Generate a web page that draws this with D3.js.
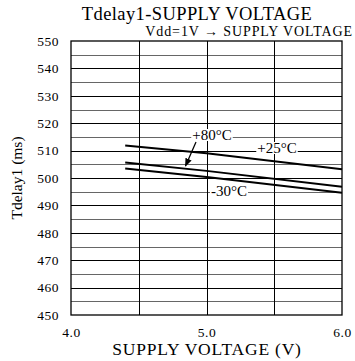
<!DOCTYPE html>
<html><head><meta charset="utf-8">
<script src="https://cdn.jsdelivr.net/npm/d3@7"></script>
<style>body{margin:0;background:#fff}svg{display:block}text{font-family:"Liberation Serif","DejaVu Serif",serif;fill:#000}</style>
</head><body>
<script>
const voltages = [4.4, 5.0, 6.0];
const t25 = [511.9, 509.0, 503.2];
const t80 = [505.7, 502.6, 496.8];
const tm30 = [503.5, 500.4, 494.6];
const seriesNames = ["+25°C", "+80°C", "-30°C"];
const xTicks = [4.0, 5.0, 6.0];
const yTicks = [450,460,470,480,490,500,510,520,530,540,550];

const W = 355, H = 361;
const m = {l:71, r:13, t:41, b:46};
const svg = d3.select("body").append("svg").attr("width", W).attr("height", H);
const x = d3.scaleLinear().domain([4, 6]).range([m.l, W - m.r]);
const y = d3.scaleLinear().domain([450, 550]).range([H - m.b, m.t]);

// grid
const g = svg.append("g");
d3.range(455, 550, 10).forEach(v => {
  g.append("line").attr("x1", x(4)).attr("x2", x(6)).attr("y1", Math.round(y(v))+0.5).attr("y2", Math.round(y(v))+0.5).attr("stroke", "#666").attr("stroke-width", 1);
});
d3.range(460, 550, 10).forEach(v => {
  g.append("line").attr("x1", x(4)).attr("x2", x(6)).attr("y1", Math.round(y(v))+0.5).attr("y2", Math.round(y(v))+0.5).attr("stroke", "#000").attr("stroke-width", 1);
});
[4.5, 5.0, 5.5].forEach(v => {
  g.append("line").attr("x1", Math.round(x(v))+0.5).attr("x2", Math.round(x(v))+0.5).attr("y1", y(550)).attr("y2", y(450)).attr("stroke", "#000").attr("stroke-width", 1);
});
g.append("rect").attr("x", x(4)).attr("y", y(550)).attr("width", x(6)-x(4)).attr("height", y(450)-y(550)).attr("fill", "none").attr("stroke", "#000").attr("stroke-width", 1.3);

// axes
const yAxis = d3.axisLeft(y).tickValues(yTicks).tickSize(0).tickPadding(12);
const ya = svg.append("g").attr("transform", `translate(${x(4)},0)`).call(yAxis);
ya.select(".domain").remove();
ya.selectAll("text").style("font-size", "13.5px").style("letter-spacing", "0.5px").style("font-family", '"Liberation Serif",serif');
const xAxis = d3.axisBottom(x).tickValues(xTicks).tickSize(0).tickPadding(12).tickFormat(d3.format(".1f"));
const xa = svg.append("g").attr("transform", `translate(0,${y(450)})`).call(xAxis);
xa.select(".domain").remove();
xa.selectAll("text").style("font-size", "13.5px").style("letter-spacing", "0.5px").style("font-family", '"Liberation Serif",serif');

// lines
const line = d3.line().x((d, i) => x(voltages[i])).y(d => y(d));
[t25, t80, tm30].forEach(s => {
  svg.append("path").attr("d", line(s)).attr("fill", "none").attr("stroke", "#000").attr("stroke-width", 2);
});

// labels
function label(txt, cx, cy) {
  const t = svg.append("text").attr("x", cx).attr("y", cy).attr("text-anchor", "middle").attr("dominant-baseline", "central").style("font-size", "15px").text(txt);
  const b = t.node().getBBox();
  svg.append("rect").attr("x", b.x - 1).attr("y", b.y + 2).attr("width", b.width + 2).attr("height", b.height - 4).attr("fill", "#fff");
  t.raise();
}
label(seriesNames[1], 212, 135);
label(seriesNames[0], 277, 148);
label(seriesNames[2], 229, 191);

// arrow
svg.append("defs").append("marker").attr("id", "ah").attr("viewBox", "0 0 10 10").attr("refX", 9).attr("refY", 5)
  .attr("markerWidth", 7).attr("markerHeight", 7).attr("orient", "auto")
  .append("path").attr("d", "M0,1 L10,5 L0,9 Z").attr("fill", "#000");
svg.append("line").attr("x1", 196).attr("y1", 142).attr("x2", 185.5).attr("y2", 166).attr("stroke", "#000").attr("stroke-width", 1.2).attr("marker-end", "url(#ah)");

// titles
svg.append("text").attr("x", 197).attr("y", 19.5).attr("text-anchor", "middle").style("font-size", "18.5px").style("letter-spacing", "0.4px").text("Tdelay1-SUPPLY VOLTAGE");
svg.append("text").attr("x", 353).attr("y", 36).attr("text-anchor", "end").style("font-size", "14px").style("letter-spacing", "0.9px").text("Vdd=1V → SUPPLY VOLTAGE");
svg.append("text").attr("x", 207).attr("y", 355).attr("text-anchor", "middle").style("font-size", "17.5px").style("letter-spacing", "0.8px").text("SUPPLY VOLTAGE (V)");
svg.append("text").attr("transform", `translate(22,${(y(450)+y(550))/2}) rotate(-90)`).attr("text-anchor", "middle").style("font-size", "15.5px").text("Tdelay1 (ms)");
</script>
</body></html>
